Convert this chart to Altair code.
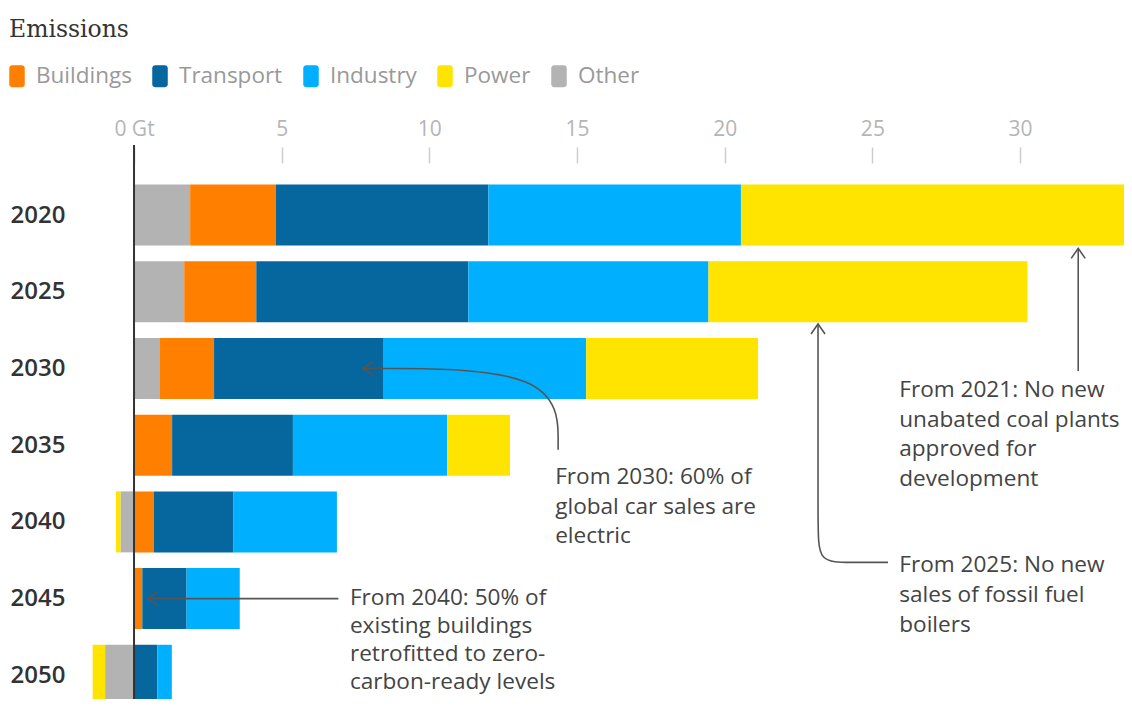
import altair as alt
import pandas as pd

# ---- data (Gt CO2) ----
years = [2020, 2025, 2030, 2035, 2040, 2045, 2050]
other = [1.9, 1.7, 0.88, 0.0, -0.46, 0.0, -0.98]
buildings = [2.9, 2.44, 1.83, 1.29, 0.67, 0.28, 0.0]
transport = [7.2, 7.18, 5.72, 4.09, 2.7, 1.5, 0.79]
industry = [8.55, 8.13, 6.88, 5.22, 3.5, 1.8, 0.49]
power = [13.3, 10.8, 5.82, 2.13, -0.15, 0.0, -0.42]

sector_names = ["Buildings", "Transport", "Industry", "Power", "Other"]
sector_colors = ["#ff7f00", "#05679e", "#00b0ff", "#ffe400", "#b3b3b3"]
stack_order = ["Other", "Buildings", "Transport", "Industry", "Power"]
tick_values = [0, 5, 10, 15, 20, 25, 30]

# annotations (x in Gt, y = year of the first text line)
note_text = [
    "From 2030: 60% of\nglobal car sales are\nelectric",
    "From 2021: No new\nunabated coal plants\napproved for\ndevelopment",
    "From 2025: No new\nsales of fossil fuel\nboilers",
    "From 2040: 50% of\nexisting buildings\nretrofitted to zero-\ncarbon-ready levels",
]
note_x = [14.26, 25.91, 25.91, 7.31]
note_y = [2037.08, 2031.39, 2042.84, 2044.97]

arrow_id = ["A", "A", "A", "B", "B", "C", "C", "C", "C", "C", "D", "D"]
arrow_seq = [0, 1, 2, 0, 1, 0, 1, 2, 3, 4, 0, 1]
arrow_x = [14.36, 14.36, 7.75, 31.97, 31.97, 25.53, 24.25, 23.16, 23.16, 23.16, 6.92, 0.47]
arrow_y = [2035.29, 2030.0, 2030.0, 2030.17, 2022.17, 2042.64, 2042.64, 2042.64, 2040.41, 2027.1, 2045.0, 2045.0]

head_x = [7.75, 31.97, 23.16, 0.47]
head_y = [2030.0, 2022.17, 2027.1, 2045.0]
head_angle = [0, 90, 90, 0]

# ---- build tables ----
series = {"Other": other, "Buildings": buildings, "Transport": transport,
          "Industry": industry, "Power": power}
rows = []
for i, yr in enumerate(years):
    pos, neg = 0.0, 0.0
    for s in stack_order:
        v = series[s][i]
        if v == 0:
            continue
        if v > 0:
            start, end = pos, pos + v
            pos = end
        else:
            start, end = neg, neg + v
            neg = end
        rows.append({"year": yr, "sector": s, "start": start, "end": end, "value": v})
bars_df = pd.DataFrame(rows)
notes_df = pd.DataFrame({"text": note_text, "x": note_x, "y": note_y})
arrows_df = pd.DataFrame({"id": arrow_id, "seq": arrow_seq, "x": arrow_x, "y": arrow_y})
heads_df = pd.DataFrame({"x": head_x, "y": head_y, "angle": head_angle})

W, H = 1116, 536
xscale = alt.Scale(domain=[-4.267, 33.52], nice=False, zero=False)
yscale = alt.Scale(domain=[2016.93, 2051.22], reverse=True, nice=False, zero=False)

swatch = ("M-0.73,-1H0.14A0.27,0.27 0 0 1 0.41,-0.73V0.73A0.27,0.27 0 0 1 0.14,1"
          "H-0.73A0.27,0.27 0 0 1 -1,0.73V-0.73A0.27,0.27 0 0 1 -0.73,-1Z")
chevron = "M1,-0.7L0,0L1,0.7"
SANS = "Open Sans"

bars = alt.Chart(bars_df).mark_bar(orient="horizontal", size=61, clip=True).encode(
    x=alt.X("start:Q", scale=xscale, title=None,
            axis=alt.Axis(orient="top", values=tick_values,
                          labelExpr="datum.value === 0 ? '0 Gt' : datum.label",
                          domain=False, grid=False, tickSize=16, tickColor="#cccccc",
                          tickWidth=1.5, labelFont=SANS, labelFontSize=21,
                          labelColor="#b5b5b5", labelPadding=8, labelFlush=False,
                          labelOverlap=False)),
    x2="end:Q",
    y=alt.Y("year:Q", scale=yscale, title=None,
            axis=alt.Axis(values=years, format="d", orient="left", labelAlign="left",
                          labelPadding=-2, ticks=False, tickSize=0, domain=False,
                          grid=False, labelFont=SANS, labelFontSize=24,
                          labelFontWeight=600, labelColor="#333333",
                          labelBaseline="middle")),
    color=alt.Color("sector:N",
                    scale=alt.Scale(domain=sector_names, range=sector_colors),
                    legend=alt.Legend(orient="none", legendX=1, legendY=-144.6,
                                      direction="horizontal", title="Emissions",
                                      titleFont="DejaVu Serif", titleFontSize=23.5,
                                      titleFontWeight="normal", titleColor="#333333",
                                      titlePadding=23, titleAnchor="start",
                                      titleOrient="top", labelFont=SANS,
                                      labelFontSize=22.5, labelColor="#999999",
                                      symbolType=swatch, symbolSize=484,
                                      symbolStrokeWidth=0, symbolOpacity=1,
                                      labelOffset=4.5, columnPadding=20, padding=0)),
)

zero_rule = alt.Chart(pd.DataFrame({"x": [0]})).mark_rule(
    color="#333333", strokeWidth=2).encode(
    x=alt.X("x:Q", scale=xscale), y=alt.value(-18), y2=alt.value(H))

arrows = alt.Chart(arrows_df).mark_line(
    interpolate="basis", color="#555555", strokeWidth=1.6).encode(
    x=alt.X("x:Q", scale=xscale), y=alt.Y("y:Q", scale=yscale),
    detail="id:N", order="seq:Q")

heads = alt.Chart(heads_df).mark_point(
    shape=chevron, size=400, filled=False, color="#555555", strokeWidth=1.6,
    opacity=1).encode(
    x=alt.X("x:Q", scale=xscale), y=alt.Y("y:Q", scale=yscale),
    angle=alt.Angle("angle:Q", scale=None))

notes_main = alt.Chart(notes_df.iloc[:3]).mark_text(
    align="left", baseline="middle", lineBreak="\n", font=SANS, fontSize=22.6,
    lineHeight=29.7, color="#444444").encode(
    x=alt.X("x:Q", scale=xscale), y=alt.Y("y:Q", scale=yscale), text="text:N")

notes_last = alt.Chart(notes_df.iloc[3:]).mark_text(
    align="left", baseline="middle", lineBreak="\n", font=SANS, fontSize=22.6,
    lineHeight=28.0, color="#444444").encode(
    x=alt.X("x:Q", scale=xscale), y=alt.Y("y:Q", scale=yscale), text="text:N")

chart = alt.layer(bars, zero_rule, arrows, heads, notes_main, notes_last).properties(
    width=W, height=H, autosize="none",
    padding={"left": 0, "top": 155, "right": 0, "bottom": 0},
).configure_view(stroke=None)

chart.save("out.html", embed_options={"renderer": "svg", "actions": False})
